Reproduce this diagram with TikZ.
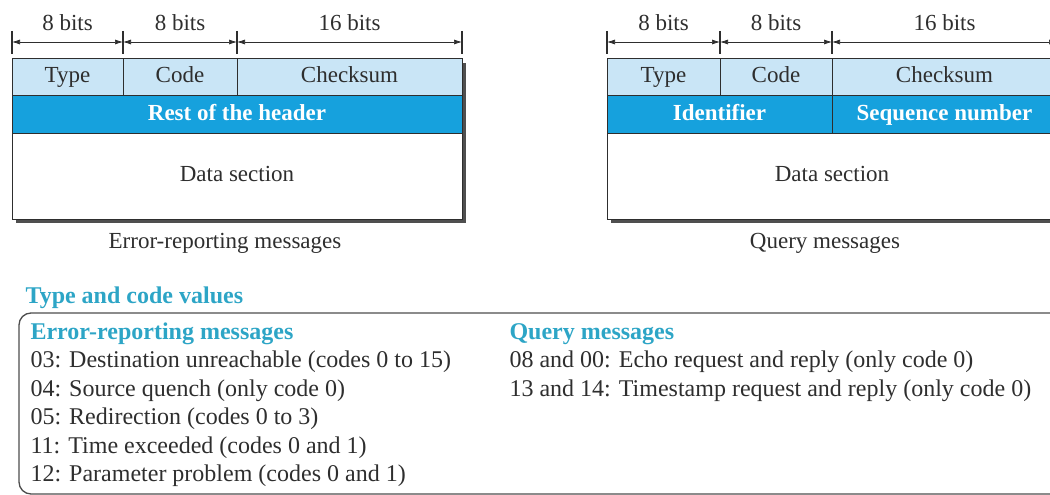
\documentclass[tikz,border=0pt]{standalone}
\usepackage{fontspec}
\setmainfont{Liberation Serif}
\usetikzlibrary{positioning,arrows.meta,calc,backgrounds}
\definecolor{fieldlight}{HTML}{C9E5F6}
\definecolor{fielddark}{HTML}{16A1DD}
\definecolor{headteal}{HTML}{2DA5C6}
\definecolor{inkgray}{HTML}{2E2E2E}
\definecolor{shadowgray}{HTML}{4F4F4F}

\begin{document}
\begin{tikzpicture}[x=1pt, y=-1pt,
    field/.style={draw=inkgray, line width=1pt, fill=fieldlight, anchor=north west,
      minimum height=37pt, inner sep=0pt, outer sep=0pt, text=inkgray,
      text height=16pt, text depth=5pt, font=\fontsize{23}{27}\selectfont},
    bluefield/.style={field, fill=fielddark, text=white, font=\fontsize{23}{27}\selectfont\bfseries},
    datafield/.style={field, fill=white, minimum height=86pt},
    tickline/.style={draw=inkgray, line width=1.1pt},
    dimline/.style={draw=inkgray, line width=0.7pt, {Latex[length=8pt,width=5pt]}-{Latex[length=8pt,width=5pt]}},
    bits/.style={anchor=base, text=inkgray, font=\fontsize{23}{27}\selectfont},
    caption/.style={text=inkgray, font=\fontsize{23}{27}\selectfont},
    heading/.style={anchor=base west, text=headteal, font=\fontsize{24}{28}\selectfont\bfseries},
    entry/.style={anchor=base west, text=inkgray, font=\fontsize{24}{28}\selectfont},
    frame/.style={draw=inkgray!85, line width=1.3pt, rounded corners=12pt}]

    \useasboundingbox (0,0) rectangle (1050,495);
    \clip (0,0) rectangle (1050,495);

    % error-reporting format
    \node[field, minimum width=111pt] (type1) at (12,59) {Type};
    \node[field, minimum width=114pt, right=0pt of type1] (code1) {Code};
    \node[field, minimum width=225pt, right=0pt of code1] (chk1) {Checksum};
    \node[bluefield, minimum width=450pt] (rest1) at (type1.south west) {Rest of the header};
    \node[datafield, minimum width=450pt] (data1) at (rest1.south west) {Data section};
    \node[caption] (cap1) at (225,243) {Error-reporting messages};

    % query format
    \node[field, minimum width=113pt] (type2) at (607,59) {Type};
    \node[field, minimum width=112pt, right=0pt of type2] (code2) {Code};
    \node[field, minimum width=225pt, right=0pt of code2] (chk2) {Checksum};
    \node[bluefield, minimum width=225pt] (ident2) at (type2.south west) {Identifier};
    \node[bluefield, minimum width=225pt, right=0pt of ident2] (seq2) {Sequence number};
    \node[datafield, minimum width=450pt] (data2) at (ident2.south west) {Data section};
    \node[caption] (cap2) at (825,243) {Query messages};

    \begin{scope}[on background layer]
        \fill[shadowgray] ([shift={(4,4)}]type1.north west) rectangle ([shift={(4,4)}]data1.south east);
        \fill[shadowgray] ([shift={(4,4)}]type2.north west) rectangle ([shift={(4,4)}]data2.south east);
    \end{scope}

    % bit widths
    \foreach \n/\x in {a/12, b/123, c/237, d/462, e/607, f/720, g/832, h/1057} {
        \coordinate (dim\n) at (\x,42);
        \draw[tickline] ([shift={(0,-11)}]dim\n) -- ([shift={(0,12)}]dim\n);
    }
    \foreach \s/\t/\w in {a/b/8 bits, b/c/8 bits, c/d/16 bits, e/f/8 bits, f/g/8 bits, g/h/16 bits} {
        \draw[dimline] (dim\s) -- (dim\t);
        \node[bits] (lbl\s) at ($(dim\s)!0.5!(dim\t)+(0,-11)$) {\w};
    }

    % type and code values
    \node[heading] (tcv) at (22,303) {Type and code values};
    \draw[frame] (19,313) rectangle (1120,494);

    \node[heading] (errh) at (27,339) {Error-reporting messages};
    \foreach \t [count=\i] in {03: Destination unreachable (codes 0 to 15),
        04: Source quench (only code 0), 05: Redirection (codes 0 to 3),
        11: Time exceeded (codes 0 and 1), 12: Parameter problem (codes 0 and 1)}
        \node[entry] (err\i) at (27,{339+28.5*\i}) {\t};

    \node[heading] (qryh) at (506,339) {Query messages};
    \foreach \t [count=\i] in {08 and 00: Echo request and reply (only code 0),
        13 and 14: Timestamp request and reply (only code 0)}
        \node[entry] (qry\i) at (506,{339+28.5*\i}) {\t};
\end{tikzpicture}
\end{document}
